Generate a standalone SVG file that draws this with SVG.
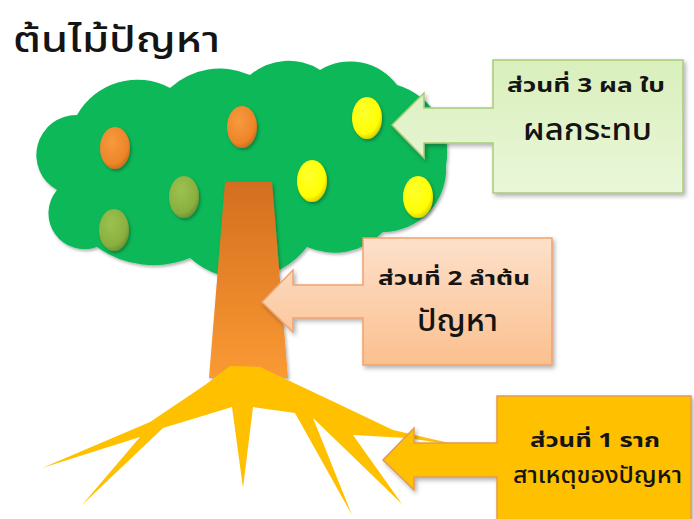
<svg xmlns="http://www.w3.org/2000/svg" width="694" height="519" viewBox="0 0 694 519">
  <defs>
    <filter id="soft" x="-10%" y="-10%" width="125%" height="125%">
      <feDropShadow dx="1.5" dy="2" stdDeviation="1.5" flood-color="#000" flood-opacity="0.3"/>
    </filter>
    <filter id="boxShadow" x="-10%" y="-10%" width="125%" height="125%">
      <feDropShadow dx="2" dy="2.5" stdDeviation="2" flood-color="#000" flood-opacity="0.3"/>
    </filter>
    <linearGradient id="trunkGrad" x1="0" y1="0" x2="0" y2="1">
      <stop offset="0" stop-color="#D46E1F"/>
      <stop offset="1" stop-color="#FA9A33"/>
    </linearGradient>
    <radialGradient id="orangeGrad" cx="0.4" cy="0.35" r="0.7">
      <stop offset="0" stop-color="#F79A3E"/>
      <stop offset="0.75" stop-color="#EE8529"/>
      <stop offset="1" stop-color="#C9681A"/>
    </radialGradient>
    <radialGradient id="oliveGrad" cx="0.4" cy="0.35" r="0.7">
      <stop offset="0" stop-color="#9CC24E"/>
      <stop offset="0.75" stop-color="#8AAF40"/>
      <stop offset="1" stop-color="#6B8C2E"/>
    </radialGradient>
    <radialGradient id="yellowGrad" cx="0.4" cy="0.35" r="0.7">
      <stop offset="0" stop-color="#FFFF30"/>
      <stop offset="0.75" stop-color="#FFFF00"/>
      <stop offset="1" stop-color="#D4C400"/>
    </radialGradient>
    <linearGradient id="greenBox" x1="0" y1="0" x2="0" y2="1">
      <stop offset="0" stop-color="#D9EFBC"/>
      <stop offset="1" stop-color="#EAF7D9"/>
    </linearGradient>
    <linearGradient id="peachBox" x1="0" y1="0" x2="0" y2="1">
      <stop offset="0" stop-color="#FDE0CA"/>
      <stop offset="1" stop-color="#FBC08F"/>
    </linearGradient>
  </defs>
  <style>
    .thai { font-family: "Noto Sans Thai", Tahoma, "Leelawadee UI", "DejaVu Sans", "Noto Sans", sans-serif; fill: #141414; }
    .title { font-size: 36px; font-weight: 500; }
    .lead { font-size: 20px; font-weight: bold; }
    .big { font-size: 30px; font-weight: 500; }
    .mid { font-size: 23px; font-weight: 500; }
    .fruit { filter: url(#soft); }
    .orange { fill: url(#orangeGrad); }
    .olive { fill: url(#oliveGrad); }
    .yellow { fill: url(#yellowGrad); }
  </style>

  <rect width="694" height="519" fill="#FFFFFF"/>

  <g id="title">
    <text class="thai title" x="13" y="52" textLength="207" lengthAdjust="spacingAndGlyphs">ต้นไม้ปัญหา</text>
  </g>

  <!-- Tree canopy -->
  <g id="canopy">
    <path filter="url(#soft)" fill="#0AB858" d="M 77,115
      A 69,69 0 0 1 170,88
      A 74,74 0 0 1 250,75
      A 59,59 0 0 1 320,70
      A 58,58 0 0 1 397,85
      A 70,70 0 0 1 446,165
      A 63,63 0 0 1 383,232
      A 68,68 0 0 1 307,247
      A 80,80 0 0 1 190,258
      A 97,97 0 0 1 97,247
      A 36,36 0 0 1 57,190
      A 40,40 0 0 1 77,115 Z"/>
  </g>

  <g id="fruits">
    <ellipse class="fruit orange" cx="115" cy="148" rx="15" ry="21"/>
    <ellipse class="fruit orange" cx="242" cy="127" rx="15" ry="21"/>
    <ellipse class="fruit olive" cx="184" cy="197" rx="15" ry="21"/>
    <ellipse class="fruit olive" cx="114" cy="230" rx="15" ry="21"/>
    <ellipse class="fruit yellow" cx="367" cy="118" rx="15" ry="21"/>
    <ellipse class="fruit yellow" cx="312" cy="181" rx="15" ry="21"/>
    <ellipse class="fruit yellow" cx="418" cy="197" rx="15" ry="21"/>
  </g>

  <!-- Trunk -->
  <g id="trunk">
    <path filter="url(#soft)" fill="url(#trunkGrad)" d="M 225,182 L 272,182 L 288,378 L 209,378 Z"/>
  </g>

  <!-- Roots -->
  <g id="roots">
    <path fill="#FFC000" d="M 230,366 L 260,367
      L 330,400 L 393,430 L 462,446
      L 407,438 L 353,435
      L 402,504 L 313,418
      L 352,515 L 295,413
      L 253,407 L 243,488 L 232,407
      L 163,428 L 82,505 L 140,437
      L 42,468 L 150,422 L 205,385 Z"/>
  </g>

  <!-- Callout: part 3 -->
  <g id="part3">
    <path filter="url(#boxShadow)" fill="url(#greenBox)" stroke="#A8CC7A" stroke-width="1.5"
      d="M 493,60 H 683 V 193 H 493 V 143 H 424 V 158 L 392,125 L 424,93 V 108 H 493 Z"/>
    <text class="thai lead" x="507" y="92" textLength="158" lengthAdjust="spacingAndGlyphs">ส่วนที่ 3 ผล ใบ</text>
    <text class="thai big" x="523" y="140" textLength="129" lengthAdjust="spacingAndGlyphs">ผลกระทบ</text>
  </g>

  <!-- Callout: part 2 -->
  <g id="part2">
    <path filter="url(#boxShadow)" fill="url(#peachBox)" stroke="#F0A36E" stroke-width="1.5"
      d="M 363,238 H 552 V 365 H 363 V 318 H 293 V 332 L 262,302 L 293,270 V 285 H 363 Z"/>
    <text class="thai lead" x="378" y="285" textLength="152" lengthAdjust="spacingAndGlyphs">ส่วนที่ 2 ลำต้น</text>
    <text class="thai big" x="417" y="331" textLength="81" lengthAdjust="spacingAndGlyphs">ปัญหา</text>
  </g>

  <!-- Callout: part 1 -->
  <g id="part1">
    <path filter="url(#boxShadow)" fill="#FFC000" stroke="#E49A4E" stroke-width="1.5"
      d="M 497,396 H 691 V 530 H 497 V 477 H 414 V 490 L 383,460 L 414,428 V 443 H 497 Z"/>
    <text class="thai lead" x="530" y="447" textLength="130" lengthAdjust="spacingAndGlyphs">ส่วนที่ 1 ราก</text>
    <text class="thai mid" x="513" y="483" textLength="169" lengthAdjust="spacingAndGlyphs">สาเหตุของปัญหา</text>
  </g>
</svg>
